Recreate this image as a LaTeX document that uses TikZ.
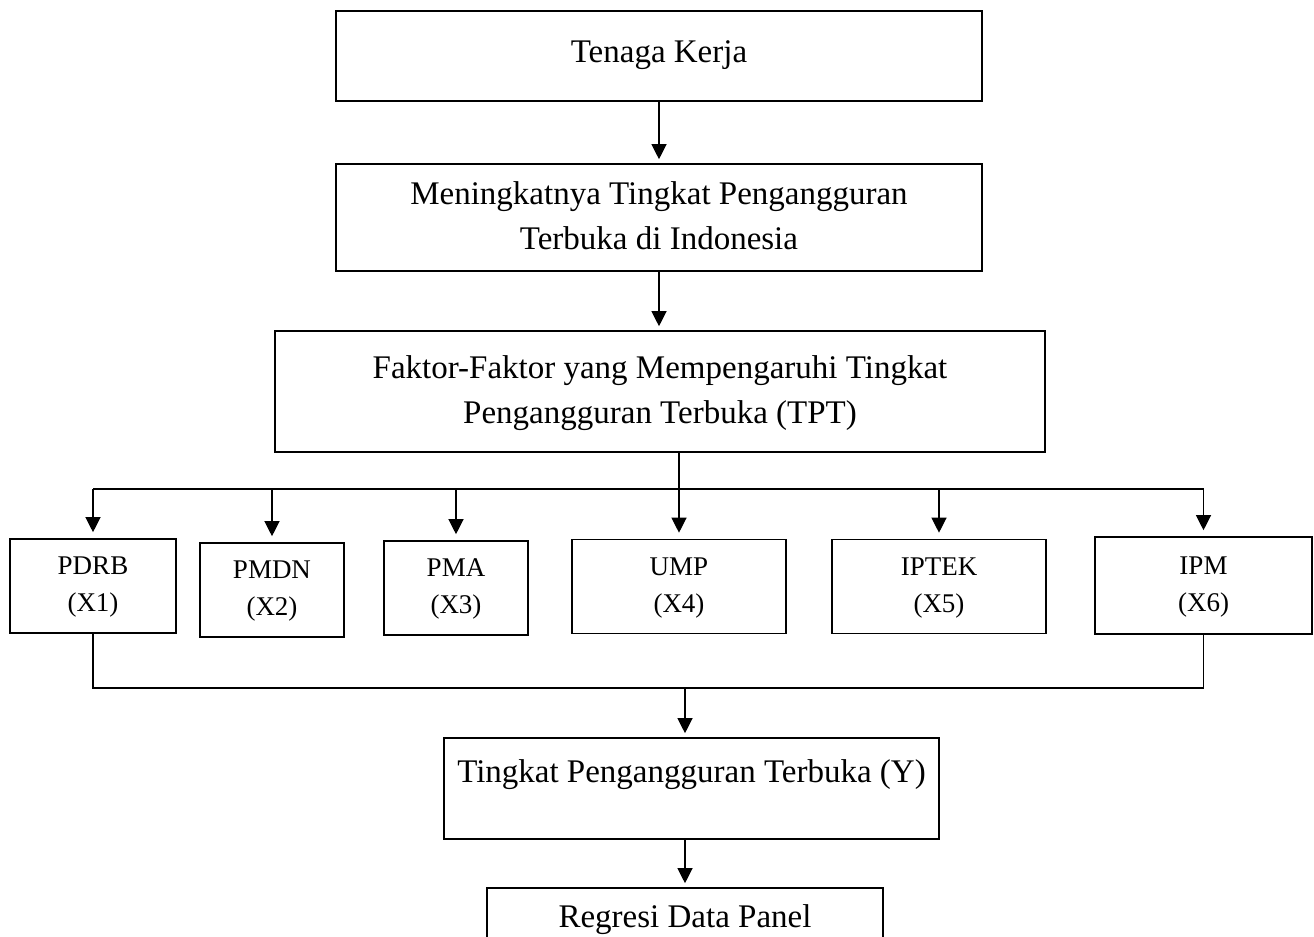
\documentclass[tikz,border=0pt]{standalone}
\usepackage{fontspec}
\setmainfont{Liberation Serif}
\usetikzlibrary{arrows.meta,calc,positioning}
\tikzstyle{block}=[draw,line width=.8pt,inner sep=0pt,font=\fontsize{16.5pt}{22.5pt}\selectfont]
\tikzstyle{varbox}=[block,font=\fontsize{13.5pt}{18.5pt}\selectfont,minimum height=47pt]
\tikzstyle{line}=[line width=.6pt]
\tikzstyle{arrow}=[-{Triangle[length=7.5pt,width=7.5pt]},line,shorten >=2pt]

\begin{document}
\begin{tikzpicture}[x=.5pt,y=-.5pt]
    \path[use as bounding box,clip] (0,0) rectangle (1314,937);

    \node[block,minimum width=323pt,text height=25.5pt,text depth=19.5pt] (tenaga) at (659,56) {Tenaga Kerja};
    \node[block,minimum width=323pt,minimum height=53.5pt] (naik) at (659,217.5) {\begin{tabular}{c}Meningkatnya Tingkat Pengangguran\\ Terbuka di Indonesia\end{tabular}};
    \node[block,minimum width=385pt,minimum height=60.5pt] (faktor) at (660,391.5) {\begin{tabular}{c}Faktor-Faktor yang Mempengaruhi Tingkat\\ Pengangguran Terbuka (TPT)\end{tabular}};

    \node[varbox,minimum width=83pt] (pdrb) at (93,586) {\begin{tabular}{c}PDRB\\ (X1)\end{tabular}};
    \node[varbox,minimum width=72pt] (pmdn) at (272,590) {\begin{tabular}{c}PMDN\\ (X2)\end{tabular}};
    \node[varbox,minimum width=72pt] (pma) at (456,588) {\begin{tabular}{c}PMA\\ (X3)\end{tabular}};
    \node[varbox,minimum width=107pt] (ump) at (679,586.5) {\begin{tabular}{c}UMP\\ (X4)\end{tabular}};
    \node[varbox,minimum width=107pt] (iptek) at (939,586.5) {\begin{tabular}{c}IPTEK\\ (X5)\end{tabular}};
    \node[varbox,minimum width=108.5pt,minimum height=48.5pt] (ipm) at (1203.5,585.5) {\begin{tabular}{c}IPM\\ (X6)\end{tabular}};

    \node[block,minimum width=247.5pt,text height=22pt,text depth=28.5pt] (tpt) at (691.5,788.5) {Tingkat Pengangguran Terbuka (Y)};
    \node[block,minimum width=198pt,text height=19.5pt,text depth=20pt] (regresi) at (685,927.5) {Regresi Data Panel};

    \coordinate (bus) at (679,489);
    \coordinate (join) at (685,688);

    \draw[arrow] (tenaga) -- (naik);
    \draw[arrow] (naik.south) -- (naik.south |- faktor.north);
    \draw[line] (faktor.south -| bus) -- (bus);
    \draw[line] (bus -| pdrb) -- (bus -| ipm);
    \foreach \v in {pdrb,pmdn,pma,ump,iptek,ipm}
      \draw[arrow,shorten >=3pt] (bus -| \v) -- (\v.north);
    \draw[line] (pdrb.south) -- (pdrb.south |- join) -- (join -| ipm) -- (ipm.south);
    \draw[arrow] (join) -- (join |- tpt.north);
    \draw[arrow] (tpt.south -| regresi) -- (regresi);
\end{tikzpicture}
\end{document}
